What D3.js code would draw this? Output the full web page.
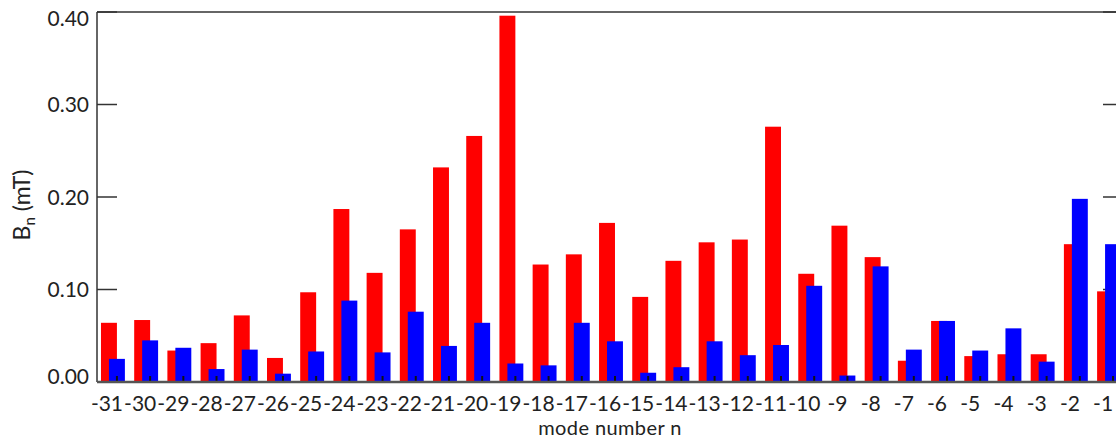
<!DOCTYPE html>
<html>
<head>
<meta charset="utf-8">
<script src="https://cdn.jsdelivr.net/npm/d3@7"></script>
<style>
  html, body { margin: 0; padding: 0; background: #fff; }
  svg text { font-family: Lato, "Open Sans", sans-serif; fill: #222; }
</style>
</head>
<body>
<div id="chart"></div>
<script>
// Toroidal mode numbers and the two measured amplitude spectra (mT)
const modes = [-31,-30,-29,-28,-27,-26,-25,-24,-23,-22,-21,-20,-19,-18,-17,-16,-15,-14,-13,-12,-11,-10,-9,-8,-7,-6,-5,-4,-3,-2,-1];
const redValues = [0.064,0.067,0.034,0.042,0.072,0.026,0.097,0.187,0.118,0.165,0.232,0.266,0.396,0.127,0.138,0.172,0.092,0.131,0.151,0.154,0.276,0.117,0.169,0.135,0.023,0.066,0.028,0.030,0.030,0.149,0.098];
const blueValues = [0.025,0.045,0.037,0.014,0.035,0.009,0.033,0.088,0.032,0.076,0.039,0.064,0.020,0.018,0.064,0.044,0.010,0.016,0.044,0.029,0.040,0.104,0.007,0.125,0.035,0.066,0.034,0.058,0.022,0.198,0.149];
const yTicks = [0.00, 0.10, 0.20, 0.30, 0.40];

const W = 1116, H = 440;
const plotLeft = 97, plotRight = 1123, plotTop = 12, plotBottom = 382;

const svg = d3.select("#chart").append("svg")
  .attr("width", W).attr("height", H);

const x = d3.scaleLinear().domain([-31.6, -0.7]).range([plotLeft, plotRight]);
const y = d3.scaleLinear().domain([0, 0.4]).range([plotBottom, plotTop]);
const half = 0.24;   // half bar width in mode units

// y ticks (inward, both sides)
const tickLen = 20;
const axisColor = "#333";
const gTicks = svg.append("g");
yTicks.forEach(v => {
  gTicks.append("line")
    .attr("x1", plotLeft).attr("x2", plotLeft + tickLen)
    .attr("y1", y(v)).attr("y2", y(v))
    .attr("stroke", axisColor).attr("stroke-width", 1.5);
  gTicks.append("line")
    .attr("x1", plotRight - tickLen).attr("x2", plotRight)
    .attr("y1", y(v)).attr("y2", y(v))
    .attr("stroke", axisColor).attr("stroke-width", 1.5);
});

// bars: red sits left of the mode position, blue is centred on it
const bars = svg.append("g");
bars.selectAll("rect.red").data(modes).join("rect")
  .attr("class", "red")
  .attr("x", (d) => x(d - 2 * half))
  .attr("width", (d) => x(d) - x(d - 2 * half))
  .attr("y", (d, i) => y(redValues[i]))
  .attr("height", (d, i) => y(0) - y(redValues[i]))
  .attr("fill", "#ff0000");
bars.selectAll("rect.blue").data(modes).join("rect")
  .attr("class", "blue")
  .attr("x", (d) => x(d - half))
  .attr("width", (d) => x(d + half) - x(d - half))
  .attr("y", (d, i) => y(blueValues[i]))
  .attr("height", (d, i) => y(0) - y(blueValues[i]))
  .attr("fill", "#0000ff");

// x ticks: short inward marks at each mode
svg.append("g").selectAll("line").data(modes).join("line")
  .attr("x1", d => x(d)).attr("x2", d => x(d))
  .attr("y1", plotBottom).attr("y2", plotBottom - 6)
  .attr("stroke", "#111").attr("stroke-width", 2);

// frame
svg.append("line").attr("x1", plotLeft).attr("x2", plotLeft)
  .attr("y1", plotTop).attr("y2", plotBottom)
  .attr("stroke", axisColor).attr("stroke-width", 1.5);
svg.append("line").attr("x1", plotLeft).attr("x2", plotRight)
  .attr("y1", plotTop).attr("y2", plotTop)
  .attr("stroke", axisColor).attr("stroke-width", 1.5);
svg.append("line").attr("x1", plotRight).attr("x2", plotRight)
  .attr("y1", plotTop).attr("y2", plotBottom)
  .attr("stroke", axisColor).attr("stroke-width", 1.5);
svg.append("line").attr("x1", plotLeft).attr("x2", plotRight)
  .attr("y1", plotBottom).attr("y2", plotBottom)
  .attr("stroke", "#555").attr("stroke-width", 2.5);

// y tick labels
svg.append("g").selectAll("text").data(yTicks).join("text")
  .attr("x", plotLeft - 8)
  .attr("y", d => Math.min(Math.max(y(d), plotTop + 6), plotBottom - 6))
  .attr("dy", "0.36em")
  .attr("text-anchor", "end")
  .attr("font-size", 21)
  .text(d => d3.format(".2f")(d));

// x tick labels
svg.append("g").selectAll("text").data(modes).join("text")
  .attr("x", d => x(d - 0.3))
  .attr("y", 411)
  .attr("text-anchor", "middle")
  .attr("font-size", 21)
  .text(d => d);

// axis titles
svg.append("text")
  .attr("x", (plotLeft + plotRight) / 2)
  .attr("y", 435)
  .attr("text-anchor", "middle")
  .attr("font-size", 20)
  .attr("letter-spacing", "0.4")
  .text("mode number n");

const yt = svg.append("text")
  .attr("transform", "translate(30,205) rotate(-90)")
  .attr("text-anchor", "middle")
  .attr("font-size", 23);
yt.append("tspan").text("B");
yt.append("tspan").attr("font-size", 15).attr("dy", 5).text("n");
yt.append("tspan").attr("dy", -5).text(" (mT)");
</script>
</body>
</html>
